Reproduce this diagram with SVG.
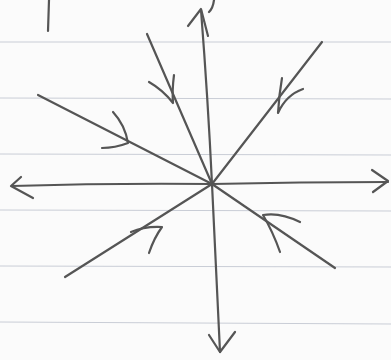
<svg xmlns="http://www.w3.org/2000/svg" width="391" height="360" viewBox="0 0 391 360">
<style>
.rule{stroke:#c9cdd6;stroke-width:1;fill:none}
.ink{stroke:#555;stroke-width:2.2;fill:none;stroke-linecap:round;stroke-linejoin:round}
</style>
<rect width="391" height="360" fill="#fbfbfb"/>
<g id="paper">
<line class="rule" x1="0" y1="42" x2="391" y2="42"/>
<line class="rule" x1="0" y1="98" x2="391" y2="99"/>
<line class="rule" x1="0" y1="154" x2="391" y2="155"/>
<line class="rule" x1="0" y1="210" x2="391" y2="211"/>
<line class="rule" x1="0" y1="266" x2="391" y2="267"/>
<line class="rule" x1="0" y1="322" x2="391" y2="324"/>
</g>
<g id="marks">
<path class="ink" d="M49 0 L48 31"/>
<path class="ink" d="M214 0 Q213 8 209 12"/>
</g>
<g id="connectors">
<path class="ink" d="M212 184 Q208 100 201 10"/>
<path class="ink" d="M188 26 L201 9 L208 36"/>
<path class="ink" d="M212 184 Q216 270 220 352"/>
<path class="ink" d="M209 335 L220 352 L235 332"/>
<path class="ink" d="M212 184 Q110 183 12 186"/>
<path class="ink" d="M21 177 L11 186 L33 198"/>
<path class="ink" d="M212 184 Q300 182 388 182"/>
<path class="ink" d="M372 170 L388 181 L373 192"/>
<path class="ink" d="M38 95 L212 184"/>
<path class="ink" d="M113 112 Q125 125 128 143 Q115 148 102 148"/>
<path class="ink" d="M147 34 L212 184"/>
<path class="ink" d="M149 82 Q163 90 173 103 Q172 90 174 75"/>
<path class="ink" d="M322 42 L212 184"/>
<path class="ink" d="M282 78 Q279 95 278 113 Q286 95 303 89"/>
<path class="ink" d="M65 277 L212 184"/>
<path class="ink" d="M131 232 Q145 226 162 227 Q154 238 149 253"/>
<path class="ink" d="M212 184 L335 268"/>
<path class="ink" d="M300 222 Q280 212 263 215 Q273 232 280 252"/>
</g>
</svg>
